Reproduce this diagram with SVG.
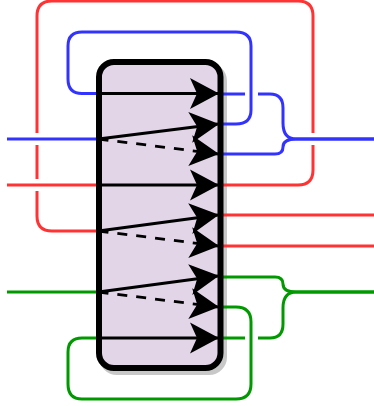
<svg xmlns="http://www.w3.org/2000/svg" width="374" height="406" viewBox="0 0 374 406">
<style>
.w{fill:none;stroke-width:3}
.b{stroke:#3333ff}.r{stroke:#ff3333}.g{stroke:#009900}
.a{fill:none;stroke:#000;stroke-width:2.800;marker-end:url(#ah)}
.d{stroke-dasharray:10 9}
</style>
<defs>
<marker id="ah" markerUnits="userSpaceOnUse" markerWidth="34" markerHeight="34" refX="28" refY="17" orient="auto" overflow="visible">
<path d="M0 1.500L29 17L0 32.500L7 17Z" fill="#000"/>
</marker>
</defs>
<g id="node-shadow">
<rect x="102" y="66" width="122" height="306" rx="15" fill="#c8c8c8" stroke="#c8c8c8" stroke-width="6"/>
</g>
<g id="connectors-back">
<path class="w r" d="M98 231H52Q37 231 37 216V191M37 179V145M37 133V16Q37 1 52 1H298Q313 1 313 16V133M313 145V170Q313 185 298 185H221"/>
<path class="w b" d="M98 93.500H82Q68 93.500 68 79V46Q68 32 82 32H236Q251 32 251 46V110Q251 124 236 124H221"/>
<path class="w g" d="M98 338H82Q68 338 68 352V384Q68 399 82 399H236Q251 399 251 384V322Q251 307 236 307H221"/>
<path class="w b" d="M7 139H98"/>
<path class="w r" d="M7 185H98"/>
<path class="w g" d="M7 292H98"/>
<path class="w b" d="M221 94H245M258 94H270Q283 94 283 108V123Q283 139 296 139H374"/>
<path class="w b" d="M221 154H275Q283 154 283 147Q283 139 296 139H374"/>
<path class="w r" d="M221 215H374"/>
<path class="w r" d="M221 246H374"/>
<path class="w g" d="M221 277H275Q283 277 283 284Q283 292 296 292H374"/>
<path class="w g" d="M221 338H245M258 338H270Q283 338 283 324V308Q283 292 296 292H374"/>
</g>
<g id="node-box">
<rect x="99" y="62" width="121.500" height="306" rx="15" fill="#e1d5e7" stroke="#000" stroke-width="6"/>
</g>
<g id="connectors">
<path class="a" d="M98.500 93.500H218"/>
<path class="a" d="M98.500 139L218 124"/>
<path class="a d" d="M98.500 139L218 154"/>
<path class="a" d="M98.500 185H218"/>
<path class="a" d="M98.500 231L218 215"/>
<path class="a d" d="M98.500 231L218 246"/>
<path class="a" d="M98.500 292L218 276"/>
<path class="a d" d="M98.500 292L218 307"/>
<path class="a" d="M98.500 338H218"/>
</g>
</svg>
